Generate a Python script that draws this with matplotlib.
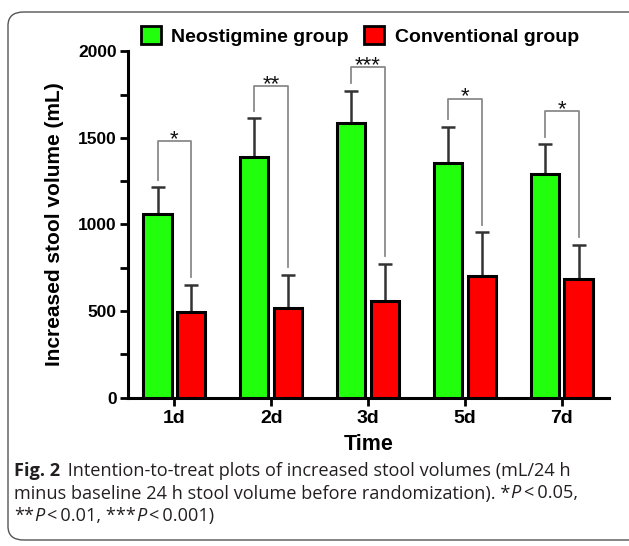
import matplotlib
matplotlib.use("Agg")
import matplotlib.pyplot as plt
from matplotlib.patches import Patch, FancyBboxPatch
import numpy as np

# -- Donnees --------------------------------------------------------------------
days = ["1d", "2d", "3d", "5d", "7d"]
neo_mean = [1058, 1393, 1586, 1358, 1290]
neo_sd = [156, 220, 186, 207, 173]
conv_mean = [493, 516, 558, 703, 686]
conv_sd = [158, 193, 215, 251, 195]
bracket_top = [1480, 1798, 1909, 1728, 1656]
stars = ["*", "**", "***", "*", "*"]

GREEN = "#22ff0c"
RED = "#ff0000"
W, H = 629, 546

plt.rcParams["font.family"] = ["Liberation Sans", "DejaVu Sans"]

fig = plt.figure(figsize=(W / 100, H / 100), dpi=100)
ax = fig.add_axes([128 / W, 1 - 397.5 / H, (609 - 128) / W, (397.5 - 51.5) / H])

x = np.arange(len(days))
off, bw = 0.175, 0.29
ax.bar(x - off, neo_mean, bw, color=GREEN, edgecolor="black", linewidth=2.2, zorder=3)
ax.bar(x + off, conv_mean, bw, color=RED, edgecolor="black", linewidth=2.2, zorder=3)
ax.errorbar(x - off, neo_mean, yerr=[np.zeros(5), neo_sd], fmt="none",
            ecolor="#333333", elinewidth=1.8, capsize=5, capthick=1.8, zorder=2)
ax.errorbar(x + off, conv_mean, yerr=[np.zeros(5), conv_sd], fmt="none",
            ecolor="#333333", elinewidth=1.8, capsize=5, capthick=1.8, zorder=2)

# crochets de significativite
gap = 45
for i in range(len(days)):
    yl = neo_mean[i] + neo_sd[i] + gap
    yr = conv_mean[i] + conv_sd[i] + gap
    yt = bracket_top[i]
    ax.plot([x[i] - off, x[i] - off, x[i] + off, x[i] + off], [yl, yt, yt, yr],
            color="#8a8a8a", lw=1.3, zorder=4)
    ax.text(x[i], yt - 22, stars[i], ha="center", va="baseline", fontsize=16,
            color="#111111")

ax.set_xlim(-0.48, 4.49)
ax.set_ylim(0, 2000)
ax.set_yticks([0, 500, 1000, 1500, 2000])
ax.set_yticks([250, 750, 1250, 1750], minor=True)
ax.set_xticks(x)
ax.set_xticklabels(days, fontweight="bold", fontsize=14)
for lab in ax.get_yticklabels():
    lab.set_fontweight("bold")
    lab.set_fontsize(12.5)
ax.tick_params(axis="both", which="both", width=2, length=6, direction="out", pad=2)
ax.tick_params(axis="x", pad=3)
for s in ["top", "right"]:
    ax.spines[s].set_visible(False)
for s in ["left", "bottom"]:
    ax.spines[s].set_linewidth(2.2)

ax.set_xlabel("Time", fontweight="bold", fontsize=15.5, labelpad=5)
ax.set_ylabel("Increased stool volume (mL)", fontweight="bold", fontsize=15, labelpad=10)

handles = [Patch(facecolor=GREEN, edgecolor="black", linewidth=2),
           Patch(facecolor=RED, edgecolor="black", linewidth=2)]
fig.legend(handles, ["Neostigmine group", "Conventional group"], ncol=2,
           loc="center", bbox_to_anchor=(360 / W, 1 - 36 / H), frameon=False,
           prop={"weight": "bold", "size": 14}, handlelength=1.0, handleheight=1.0,
           handletextpad=0.55, columnspacing=0.8)

# cadre arrondi
box = FancyBboxPatch((8 / W, 1 - 540 / H), (W + 20) / W, (540 - 12) / H,
                     boxstyle="round,pad=0,rounding_size=0.025", transform=fig.transFigure,
                     facecolor="none", edgecolor="#555555", lw=1.0)
fig.patches.append(box)

# legende de la figure
cap_col = "#231f20"
cap_font = "Open Sans"
lines = [
    [("Fig. 2", "bold", "normal"), (" \u2009Intention-to-treat plots of increased stool volumes (mL/24 h", "normal", "normal")],
    [("minus baseline 24 h stool volume before randomization). *", "normal", "normal"),
     ("P", "normal", "italic"), ("\u2009<\u20090.05,", "normal", "normal")],
    [("**", "normal", "normal"), ("P", "normal", "italic"), ("\u2009<\u20090.01, ***", "normal", "normal"),
     ("P", "normal", "italic"), ("\u2009<\u20090.001)", "normal", "normal")],
]
renderer = fig.canvas.get_renderer()
for k, pieces in enumerate(lines):
    xp = 14
    yp = 476 + k * 22.5
    for txt, wt, st in pieces:
        t = fig.text(xp / W, 1 - yp / H, txt, fontsize=13.1, fontweight=wt, fontstyle=st,
                     family=[cap_font, "DejaVu Sans"], color=cap_col, va="baseline", ha="left")
        bb = t.get_window_extent(renderer=renderer)
        xp += bb.width

fig.savefig("out.png", dpi=100)
